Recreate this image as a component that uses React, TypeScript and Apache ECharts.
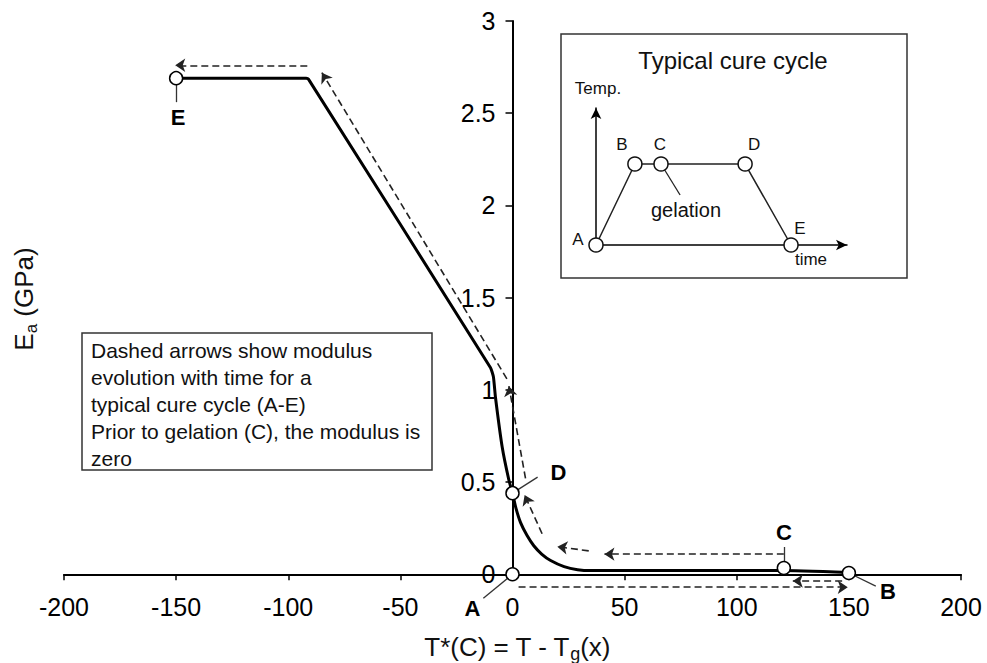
import React, { useEffect, useRef } from "react";
import * as echarts from "echarts";

const FONT = "Liberation Sans, Arial, Helvetica, sans-serif";

// main curve: modulus vs T*
const modT = [-150, -92, -91, -9.8, -8.5, -7.6, -4.6, -1.6, 0, 1.5, 3.6, 6.5, 9.5, 13, 17, 23, 29, 35, 120, 150];
const modE = [2.69, 2.69, 2.685, 1.12, 1.07, 0.96, 0.69, 0.51, 0.44, 0.36, 0.28, 0.21, 0.155, 0.11, 0.075, 0.042, 0.025, 0.02, 0.02, 0.01];

// marked points A-E
const pointNames = ["E", "D", "A", "C", "B"];
const pointT = [-150, 0, 0, 121, 150];
const pointE = [2.69, 0.44, 0, 0.034, 0.007];
const pointLabelOffset = [[2, 39], [46, -21], [-40, 34], [0, -36], [39, 18]];
// leader line ends for labels
const leaderEndT = [-150, 11.2, -13, 121, 162];
const leaderEndE = [2.56, 0.527, -0.13, 0.148, -0.064];

// dashed arrows (from -> to)
const arrowFromT = [2.7, 147, 121, 34, 13.2, 5.8, -2.5, -91.5];
const arrowFromE = [-0.07, -0.037, 0.109, 0.127, 0.22, 0.52, 1.06, 2.76];
const arrowToT = [149.5, 125, 41, 20, 5.4, -1.6, -85, -150.4];
const arrowToE = [-0.07, -0.037, 0.109, 0.15, 0.43, 1.02, 2.72, 2.76];

// axis ticks
const xMin = -200, xMax = 200, xStep = 50;
const yMin = 0, yMax = 3, yStep = 0.5;

// inset: typical cure cycle (time, temperature) in arbitrary units
const cycleNames = ["A", "B", "C", "D", "E"];
const cycleTime = [0, 1.55, 2.59, 5.94, 7.77];
const cycleTemp = [0, 5.91, 5.91, 5.91, 0];
const cycleLabelOffset = [[-18, -6], [-13, -20], [-1, -20], [9, -20], [9, -17]];
const gelationLeaderTime = [2.59, 3.35];
const gelationLeaderTemp = [5.91, 3.65];

const noteLines = [
  "Dashed arrows show modulus",
  "evolution with time for a",
  "typical cure cycle (A-E)",
  "Prior to gelation (C), the modulus is",
  "zero",
];

const GRID_LEFT = 64;
const GRID_RIGHT = 26;
const CHART_W = 987;

export default function App() {
  const ref = useRef<HTMLDivElement>(null);
  useEffect(() => {
    if (!ref.current) return;
    const chart = echarts.init(ref.current, undefined, { renderer: "svg" });

    // y axis sits where T* = 0 : shift it right from the grid's left edge
    const plotW = CHART_W - GRID_LEFT - GRID_RIGHT;
    const yAxisShift = ((0 - xMin) / (xMax - xMin)) * plotW;

    const arrows = arrowFromT.map((t, i) => ({
      coords: [
        [t, arrowFromE[i]],
        [arrowToT[i], arrowToE[i]],
      ],
    }));
    const leaders = pointT.map((t, i) => ({
      coords: [
        [t, pointE[i]],
        [leaderEndT[i], leaderEndE[i]],
      ],
    }));

    const option: any = {
      animation: false,
      backgroundColor: "#fff",
      textStyle: { fontFamily: FONT },
      grid: [
        { left: GRID_LEFT, right: GRID_RIGHT, top: 21, bottom: 88.7 },
        { left: 596, top: 108, width: 251, height: 137 },
      ],
      xAxis: [
        {
          type: "value",
          min: xMin,
          max: xMax,
          interval: xStep,
          axisLine: { lineStyle: { color: "#000", width: 2 } },
          axisTick: { length: 6, lineStyle: { color: "#000", width: 1.5 } },
          axisLabel: { color: "#000", fontSize: 25, fontFamily: FONT, margin: 20 },
          splitLine: { show: false },
        },
        {
          type: "value",
          gridIndex: 1,
          min: 0,
          max: 10,
          axisLine: {
            onZero: false,
            lineStyle: { color: "#000", width: 1.5 },
            symbol: ["none", "arrow"],
            symbolSize: [8, 11],
          },
          axisTick: { show: false },
          axisLabel: { show: false },
          splitLine: { show: false },
        },
      ],
      yAxis: [
        {
          type: "value",
          min: yMin,
          max: yMax,
          interval: yStep,
          position: "left",
          offset: -yAxisShift,
          axisLine: { show: true, onZero: false, lineStyle: { color: "#000", width: 2 } },
          axisTick: { show: true, length: 7, lineStyle: { color: "#000", width: 1.5 } },
          axisLabel: { color: "#000", fontSize: 25, fontFamily: FONT, margin: 17 },
          splitLine: { show: false },
        },
        {
          type: "value",
          gridIndex: 1,
          min: 0,
          max: 10,
          axisLine: {
            show: true,
            onZero: false,
            lineStyle: { color: "#000", width: 1.5 },
            symbol: ["none", "arrow"],
            symbolSize: [8, 11],
          },
          axisTick: { show: false },
          axisLabel: { show: false },
          splitLine: { show: false },
        },
      ],
      graphic: [
        {
          type: "rect",
          z: 0,
          shape: { x: 82, y: 333, width: 350, height: 137 },
          style: { fill: "#fff", stroke: "#333", lineWidth: 1.5 },
        },
        {
          type: "text",
          z: 1,
          x: 91,
          y: 336.5,
          style: {
            text: noteLines.join("\n"),
            fontSize: 21,
            fontFamily: FONT,
            lineHeight: 27,
            fill: "#111",
            textAlign: "left",
            textVerticalAlign: "top",
          },
        },
        {
          type: "rect",
          z: 0,
          shape: { x: 561, y: 34, width: 346, height: 244 },
          style: { fill: "#fff", stroke: "#333", lineWidth: 1.5 },
        },
        {
          type: "text",
          z: 1,
          x: 733,
          y: 60,
          style: {
            text: "Typical cure cycle",
            fontSize: 24,
            fontFamily: FONT,
            fill: "#111",
            textAlign: "center",
            textVerticalAlign: "middle",
          },
        },
        {
          type: "text",
          z: 1,
          x: 598,
          y: 88,
          style: {
            text: "Temp.",
            fontSize: 17,
            fontFamily: FONT,
            fill: "#111",
            textAlign: "center",
            textVerticalAlign: "middle",
          },
        },
        {
          type: "text",
          z: 1,
          x: 811,
          y: 259,
          style: {
            text: "time",
            fontSize: 17,
            fontFamily: FONT,
            fill: "#111",
            textAlign: "center",
            textVerticalAlign: "middle",
          },
        },
        {
          type: "text",
          z: 1,
          x: 686,
          y: 210,
          style: {
            text: "gelation",
            fontSize: 20,
            fontFamily: FONT,
            fill: "#111",
            textAlign: "center",
            textVerticalAlign: "middle",
          },
        },
        {
          type: "text",
          z: 1,
          x: 24,
          y: 299,
          rotation: Math.PI / 2,
          style: {
            text: "{n|E}{s|a}{n| (GPa)}",
            fontFamily: FONT,
            fill: "#111",
            textAlign: "center",
            textVerticalAlign: "middle",
            rich: {
              n: { fontSize: 26, fontFamily: FONT, fill: "#111", lineHeight: 30 },
              s: { fontSize: 17, fontFamily: FONT, fill: "#111", padding: [14, 0, 0, 0], lineHeight: 30 },
            },
          },
        },
        {
          type: "text",
          z: 1,
          x: 517,
          y: 647,
          style: {
            text: "{n|T*(C) = T - T}{s|g}{n|(x)}",
            fontFamily: FONT,
            fill: "#111",
            textAlign: "center",
            textVerticalAlign: "middle",
            rich: {
              n: { fontSize: 26, fontFamily: FONT, fill: "#111", lineHeight: 30 },
              s: { fontSize: 18, fontFamily: FONT, fill: "#111", padding: [14, 0, 0, 0], lineHeight: 30 },
            },
          },
        },
      ],
      series: [
        {
          type: "line",
          name: "modulus",
          data: modT.map((t, i) => [t, modE[i]]),
          showSymbol: false,
          symbol: "none",
          smooth: 0.15,
          lineStyle: { color: "#000", width: 3 },
          z: 3,
        },
        {
          type: "lines",
          coordinateSystem: "cartesian2d",
          name: "arrows",
          clip: false,
          data: arrows,
          symbol: ["none", "arrow"],
          symbolSize: 10,
          lineStyle: { color: "#222", width: 1.6, type: [7, 4], opacity: 1 },
          z: 4,
        },
        {
          type: "lines",
          coordinateSystem: "cartesian2d",
          name: "leaders",
          clip: false,
          data: leaders,
          symbol: ["none", "none"],
          lineStyle: { color: "#333", width: 1.3, opacity: 1 },
          z: 4,
        },
        {
          type: "scatter",
          name: "points",
          clip: false,
          data: pointT.map((t, i) => ({
            value: [t, pointE[i]],
            label: {
              show: true,
              formatter: pointNames[i],
              position: "inside",
              offset: pointLabelOffset[i],
              color: "#000",
              fontWeight: "bold",
              fontSize: 22,
              fontFamily: FONT,
            },
          })),
          symbol: "circle",
          symbolSize: 13,
          itemStyle: { color: "#fff", borderColor: "#000", borderWidth: 1.5, opacity: 1 },
          z: 6,
        },
        {
          type: "lines",
          coordinateSystem: "cartesian2d",
          xAxisIndex: 1,
          yAxisIndex: 1,
          name: "gelation leader",
          data: [
            {
              coords: [
                [gelationLeaderTime[0], gelationLeaderTemp[0]],
                [gelationLeaderTime[1], gelationLeaderTemp[1]],
              ],
            },
          ],
          symbol: ["none", "none"],
          lineStyle: { color: "#222", width: 1.3, opacity: 1 },
          z: 4,
        },
        {
          type: "line",
          name: "cure cycle",
          xAxisIndex: 1,
          yAxisIndex: 1,
          data: cycleTime.map((t, i) => ({
            value: [t, cycleTemp[i]],
            label: {
              show: true,
              formatter: cycleNames[i],
              position: "inside",
              offset: cycleLabelOffset[i],
              color: "#111",
              fontSize: 17,
              fontFamily: FONT,
            },
          })),
          symbol: "circle",
          symbolSize: 14,
          showSymbol: true,
          lineStyle: { color: "#222", width: 1.5 },
          itemStyle: { color: "#fff", borderColor: "#111", borderWidth: 1.5 },
          z: 5,
        },
      ],
    };
    chart.setOption(option);
    return () => chart.dispose();
  }, []);
  return (
    <div
      ref={ref}
      style={{ position: "fixed", left: 0, top: 0, width: 987, height: 663 }}
    />
  );
}
